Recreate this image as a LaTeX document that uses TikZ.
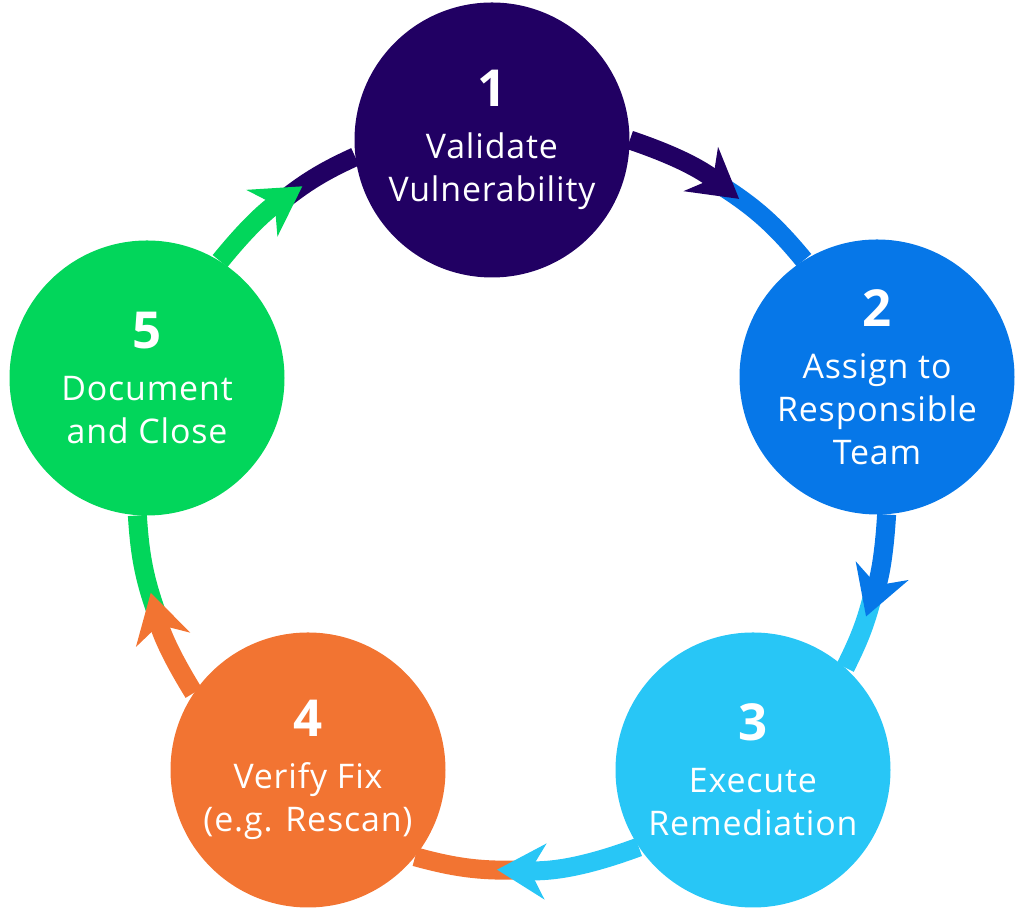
\documentclass[tikz,border=0pt]{standalone}
\usepackage{fontspec}
\setmainfont{Open Sans}[LetterSpace=2.5]
\usetikzlibrary{arrows.meta,backgrounds}

\definecolor{stepone}{HTML}{210063}
\definecolor{steptwo}{HTML}{0677E8}
\definecolor{stepthree}{HTML}{28C6F6}
\definecolor{stepfour}{HTML}{F27432}
\definecolor{stepfive}{HTML}{02D65B}

\newcommand\stagenum[1]{{\fontsize{29}{29}\selectfont\bfseries #1}}

\begin{document}
\begin{tikzpicture}[
    stage/.style={circle, fill=#1, minimum size=5.5cm, inner sep=0pt,
      text=white, align=center, font=\fontsize{19.3}{24.5}\selectfont},
    ring/.style={line width=0.38cm, draw=#1},
    tip/.style={-{Stealth[length=0.96cm,width=1.1cm,inset=0.3cm]}}
  ]
  \useasboundingbox (0,0) rectangle (20.48,18.48);
  \coordinate (ctr) at (10.24,8.56);

  % the five stages
  \node[stage=stepone] (s1) at (9.84,15.68) {\stagenum{1}\\[5pt]Validate\\Vulnerability};
  \node[stage=steptwo] (s2) at (17.54,10.94) {\stagenum{2}\\[5pt]Assign to\\Responsible\\Team};
  \node[stage=stepthree] (s3) at (15.06,3.08) {\stagenum{3}\\[5pt]Execute\\Remediation};
  \node[stage=stepfour] (s4) at (6.16,3.08) {\stagenum{4}\\[5pt]Verify Fix\\(e.g. Rescan)};
  \node[stage=stepfive] (s5) at (2.94,10.92) {\stagenum{5}\\[5pt]Document\\and Close};

  % points on the ring: colour change (c) and arrow tip (t)
  \coordinate (c12) at ([shift={(ctr)}]57.6:7.48);
  \coordinate (t12) at ([shift={(ctr)}]52.6:7.48);
  \coordinate (c23) at ([shift={(ctr)}]-13.8:7.48);
  \coordinate (t23) at ([shift={(ctr)}]-18.8:7.48);
  \coordinate (c34) at ([shift={(ctr)}]-87.3:7.48);
  \coordinate (t34) at ([shift={(ctr)}]-92.3:7.48);
  \coordinate (c45) at ([shift={(ctr)}]200:7.48);
  \coordinate (t45) at ([shift={(ctr)}]195:7.48);
  \coordinate (c51) at ([shift={(ctr)}]129:7.48);
  \coordinate (t51) at ([shift={(ctr)}]124.1:7.48);

  \begin{scope}[on background layer]
    \draw[ring=steptwo] (c12) to[bend left=9.4] (s2.122);
    \draw[ring=stepone, tip] (s1.0) to[bend left=9.6] (t12);
    \draw[ring=stepthree] (c23) to[bend left=6.8] (s3.48);
    \draw[ring=steptwo, tip] (s2.-86) to[bend left=8] (t23);
    \draw[ring=stepfour] (c34) to[bend left=9] (s4.-39);
    \draw[ring=stepthree, tip] (s3.214) to[bend left=11.2] (t34);
    \draw[ring=stepfive] (c45) to[bend left=8.6] (s5.266);
    \draw[ring=stepfour, tip] (s4.146) to[bend left=8.5] (t45);
    \draw[ring=stepone] (c51) to[bend left=7.2] (s1.187);
    \draw[ring=stepfive, tip] (s5.58) to[bend left=8.6] (t51);
  \end{scope}
\end{tikzpicture}
\end{document}
